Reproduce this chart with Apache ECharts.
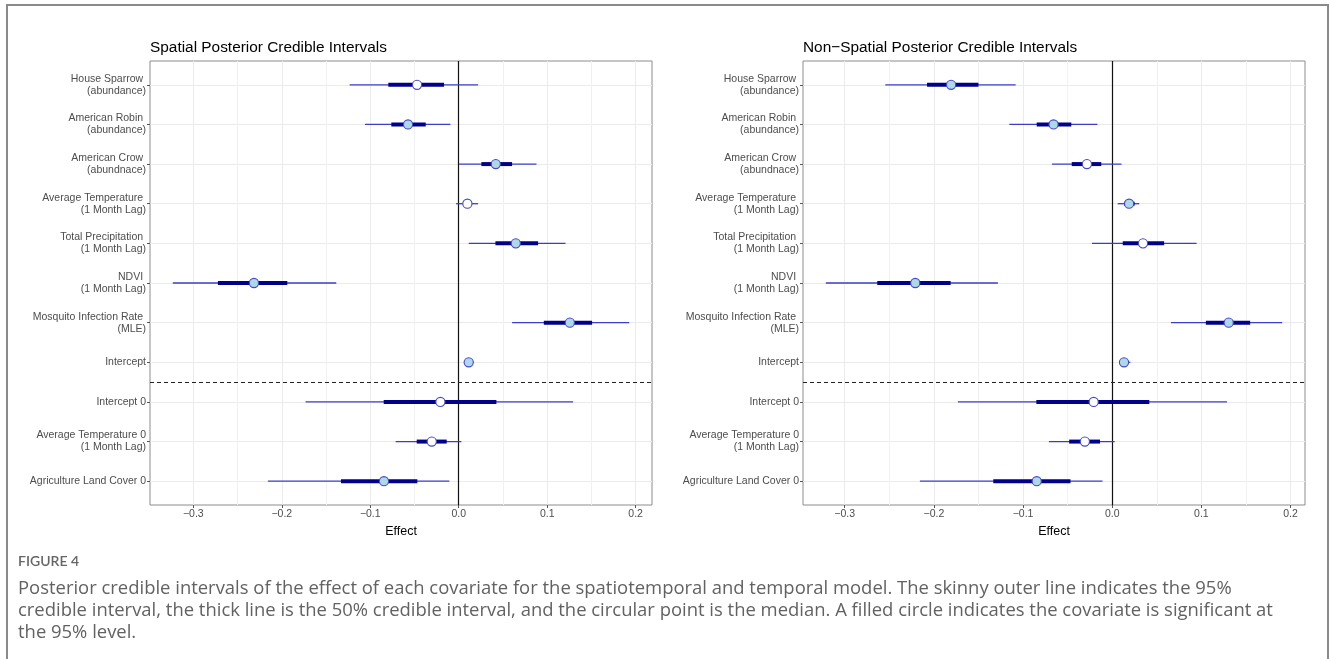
<!DOCTYPE html>
<html>
<head>
<meta charset="utf-8">
<script src="https://cdn.jsdelivr.net/npm/echarts@6/dist/echarts.min.js"></script>
<style>
html,body{margin:0;padding:0;background:#fff;}
#chart{width:1330px;height:659px;}
</style>
</head>
<body>
<div id="chart"></div>
<script>
// ---- categories (top to bottom) ----
var categories = [
  "House Sparrow \n(abundance)",
  "American Robin \n(abundance)",
  "American Crow \n(abundnace)",
  "Average Temperature \n(1 Month Lag)",
  "Total Precipitation \n(1 Month Lag)",
  "NDVI \n(1 Month Lag)",
  "Mosquito Infection Rate \n(MLE)",
  "Intercept",
  "Intercept 0",
  "Average Temperature 0\n(1 Month Lag)",
  "Agriculture Land Cover 0"
];

// ---- Spatial model ----
var spatialLo95 = [-0.1233, -0.1060, 0.0004, -0.0030, 0.0113, -0.3232, 0.0603, 0.0068, -0.1731, -0.0713, -0.2157];
var spatialHi95 = [0.0219, -0.0094, 0.0879, 0.0219, 0.1207, -0.1384, 0.1927, 0.0170, 0.1293, 0.0030, -0.0106];
var spatialLo50 = [-0.0796, -0.0762, 0.0256, 0.0050, 0.0415, -0.2722, 0.0962, 0.0087, -0.0848, -0.0475, -0.1331];
var spatialHi50 = [-0.0166, -0.0373, 0.0603, 0.0143, 0.0897, -0.1938, 0.1508, 0.0150, 0.0426, -0.0136, -0.0468];
var spatialMedian = [-0.0471, -0.0573, 0.0419, 0.0098, 0.0645, -0.2315, 0.1256, 0.0113, -0.0207, -0.0305, -0.0845];
var spatialSignificant = [0, 1, 1, 0, 1, 1, 1, 1, 0, 0, 1];

// ---- Non-spatial model ----
var nonSpatialLo95 = [-0.2545, -0.1154, -0.0676, 0.0061, -0.0227, -0.3212, 0.0658, 0.0076, -0.1731, -0.0710, -0.2157];
var nonSpatialHi95 = [-0.1083, -0.0166, 0.0104, 0.0303, 0.0946, -0.1282, 0.1906, 0.0203, 0.1287, 0.0028, -0.0109];
var nonSpatialLo50 = [-0.2077, -0.0847, -0.0454, 0.0132, 0.0118, -0.2635, 0.1050, 0.0099, -0.0851, -0.0483, -0.1334];
var nonSpatialHi50 = [-0.1500, -0.0459, -0.0123, 0.0251, 0.0582, -0.1812, 0.1547, 0.0180, 0.0416, -0.0137, -0.0468];
var nonSpatialMedian = [-0.1807, -0.0658, -0.0284, 0.0189, 0.0345, -0.2209, 0.1306, 0.0132, -0.0208, -0.0307, -0.0847];
var nonSpatialSignificant = [1, 1, 0, 1, 0, 1, 1, 1, 0, 0, 1];

// ---- tick labels ----
var xMajorTicks = [-0.3, -0.2, -0.1, 0.0, 0.1, 0.2];
var xMajorLabels = ["−0.3", "−0.2", "−0.1", "0.0", "0.1", "0.2"];
var xMinorTicks = [-0.25, -0.15, -0.05, 0.05, 0.15];
var separatorAfter = 7.5; // dashed line between "Intercept" and "Intercept 0"

var titles = ["Spatial Posterior Credible Intervals", "Non\u2212Spatial Posterior Credible Intervals"];
var captionHead = "FIGURE 4";
var captionText = "Posterior credible intervals of the effect of each covariate for the spatiotemporal and temporal model. The skinny outer line indicates the 95%\ncredible interval, the thick line is the 50% credible interval, and the circular point is the median. A filled circle indicates the covariate is significant at\nthe 95% level.";

var FONT = "'Liberation Sans', Arial, sans-serif";
var catIdx = categories.map(function (c, i) { return i; });

function buildRows(lo95, hi95, lo50, hi50, med, sig) {
  return med.map(function (m, i) { return [lo95[i], hi95[i], lo50[i], hi50[i], m, i, sig[i]]; });
}
function expandRange(lo, hi) {
  var mn = Math.min.apply(null, lo), mx = Math.max.apply(null, hi);
  var pad = (mx - mn) * 0.05;
  return [mn - pad, mx + pad];
}

var panels = [
  {rows: buildRows(spatialLo95, spatialHi95, spatialLo50, spatialHi50, spatialMedian, spatialSignificant),
   range: expandRange(spatialLo95, spatialHi95), left: 150},
  {rows: buildRows(nonSpatialLo95, nonSpatialHi95, nonSpatialLo50, nonSpatialHi50, nonSpatialMedian, nonSpatialSignificant),
   range: expandRange(nonSpatialLo95, nonSpatialHi95), left: 803}
];

function renderItem(params, api) {
  var y = api.value(5);
  var a = api.coord([api.value(0), y]);
  var b = api.coord([api.value(1), y]);
  var c = api.coord([api.value(2), y]);
  var d = api.coord([api.value(3), y]);
  var m = api.coord([api.value(4), y]);
  var sig = api.value(6);
  return {
    type: 'group',
    children: [
      {type: 'line', shape: {x1: a[0], y1: a[1], x2: b[0], y2: b[1]}, style: {stroke: '#3c3cc8', lineWidth: 1.3}},
      {type: 'line', shape: {x1: c[0], y1: c[1], x2: d[0], y2: d[1]}, style: {stroke: '#00008b', lineWidth: 4}},
      {type: 'circle', shape: {cx: m[0], cy: m[1], r: 4.6},
       style: {fill: sig ? '#add8e6' : '#ffffff', stroke: '#4646cf', lineWidth: 1.1}}
    ]
  };
}

var grids = [], xAxes = [], yAxes = [], series = [], graphics = [];
panels.forEach(function (p, k) {
  grids.push({left: p.left, top: 61, width: 502, height: 444, show: true,
              borderColor: '#8c8c8c', borderWidth: 1, backgroundColor: 'transparent'});
  // main x axis
  xAxes.push({
    type: 'value', gridIndex: k, position: 'bottom', min: p.range[0], max: p.range[1],
    axisLine: {show: false, onZero: false},
    axisTick: {show: true, customValues: xMajorTicks, length: 3, lineStyle: {color: '#555', width: 1}},
    axisLabel: {show: true, customValues: xMajorTicks, margin: 4, color: '#4d4d4d', fontSize: 10.5, fontFamily: FONT,
      formatter: function (v) {
        var idx = xMajorTicks.findIndex(function (t) { return Math.abs(t - v) < 1e-9; });
        return idx >= 0 ? xMajorLabels[idx] : '';
      }},
    splitLine: {show: true, lineStyle: {color: '#ebebeb', width: 1}},
    name: 'Effect', nameLocation: 'middle', nameGap: 15,
    nameTextStyle: {color: '#000', fontSize: 12.5, fontFamily: FONT}
  });
  // minor grid x axis (overlay)
  xAxes.push({
    type: 'value', gridIndex: k, position: 'bottom', min: p.range[0], max: p.range[1],
    axisLine: {show: false, onZero: false},
    axisTick: {show: false, customValues: xMinorTicks},
    axisLabel: {show: false},
    splitLine: {show: true, lineStyle: {color: '#f1f1f1', width: 1}}
  });
  yAxes.push({
    type: 'value', gridIndex: k, inverse: true, min: -0.6, max: categories.length - 0.4,
    axisLine: {show: false, onZero: false},
    axisTick: {show: true, customValues: catIdx, length: 3, lineStyle: {color: '#555', width: 1}},
    axisLabel: {show: true, customValues: catIdx, margin: 4, color: '#4d4d4d', fontSize: 10.5,
      fontFamily: FONT, lineHeight: 12, align: 'right',
      formatter: function (v) { return categories[Math.round(v)] || ''; }},
    splitLine: {show: true, lineStyle: {color: '#ebebeb', width: 1}}
  });
  series.push({
    type: 'custom', xAxisIndex: 2 * k, yAxisIndex: k, renderItem: renderItem,
    data: p.rows, z: 5, animation: false, silent: true,
    markLine: {
      silent: true, symbol: ['none', 'none'], animation: false, label: {show: false},
      data: [
        {xAxis: 0, lineStyle: {color: '#111', width: 1.2, type: 'solid'}},
        {yAxis: separatorAfter, lineStyle: {color: '#222', width: 1, type: [4, 3]}}
      ]
    }
  });
  graphics.push({type: 'text', left: p.left, top: 40, style: {text: titles[k], fill: '#000', fontSize: 15.4, fontFamily: FONT}});
});

// outer frame
graphics.unshift({type: 'rect', shape: {x: 7, y: 5, width: 1321, height: 700},
  style: {fill: 'none', stroke: '#8a8a8a', lineWidth: 2}, z: -1});
graphics.push({type: 'text', left: 18, top: 554,
  style: {text: captionHead, fill: '#666', fontSize: 14, fontWeight: 600, fontFamily: "Lato, 'Open Sans', sans-serif"}});
graphics.push({type: 'text', left: 18, top: 578,
  style: {text: captionText, fill: '#626262', fontSize: 18.45, lineHeight: 22, fontFamily: "'Open Sans', Lato, sans-serif"}});

var chart = echarts.init(document.getElementById('chart'), null, {renderer: 'canvas'});
chart.setOption({
  animation: false,
  backgroundColor: '#fff',
  grid: grids,
  xAxis: xAxes,
  yAxis: yAxes,
  series: series,
  graphic: graphics
});
</script>
</body>
</html>
